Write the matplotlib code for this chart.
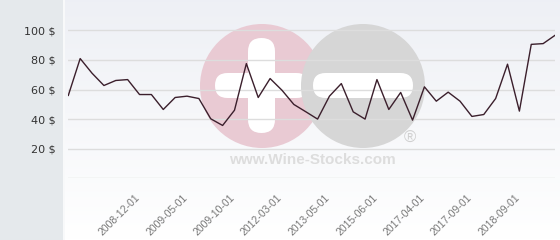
import numpy as np
import matplotlib.pyplot as plt
import matplotlib.transforms as mtransforms
from matplotlib.patches import Circle, FancyBboxPatch, Rectangle

# price history (one point per listing, category axis)
prices = [56.0, 80.9, 71.0, 62.7, 66.1, 66.7, 56.6, 56.6, 46.5, 54.6,
          55.5, 53.9, 40.2, 35.7, 46.0, 77.5, 54.6, 67.4, 59.5, 49.9,
          45.0, 40.0, 55.5, 64.0, 44.9, 40.0, 66.7, 46.5, 58.0, 39.3,
          61.8, 52.1, 58.2, 52.1, 41.8, 43.1, 53.9, 77.1, 45.4, 90.5,
          91.0, 96.6]
label_idx = [5, 9, 13, 17, 21, 25, 29, 33, 37]
label_txt = ["2008-12-01", "2009-05-01", "2009-10-01", "2012-03-01", "2013-05-01",
             "2015-06-01", "2017-04-01", "2017-09-01", "2018-09-01"]
y_ticks = [20, 40, 60, 80, 100]

W, H = 560, 240
fig = plt.figure(figsize=(W / 100, H / 100), dpi=100)

# background + watermark in pixel coords
bg = fig.add_axes([0, 0, 1, 1])
bg.axis("off")
grad = np.linspace(0, 1, 100).reshape(-1, 1)
top = np.array([0.933, 0.941, 0.961])
bg.imshow(top + (1 - top) * grad[:, :, None] * np.ones(3), extent=(63, W, H, 0), aspect="auto")
bg.set_xlim(0, W)
bg.set_ylim(H, 0)
bg.add_patch(Rectangle((0, 0), 63, H, color="#e5e9ec", lw=0))
bg.add_patch(Rectangle((63, 0), 1.5, H, color="#f8f9fa", lw=0))

pink, grey = "#e9cad3", "#d6d6d6"
bg.add_patch(Circle((262, 86), 62, color=pink, lw=0))
bg.add_patch(FancyBboxPatch((214 + 13.5, 73 + 12.5), 96 - 27, 0, boxstyle="round,pad=12.5", color="white", lw=0))
bg.add_patch(FancyBboxPatch((248 + 13.5, 38 + 13.5), 0, 95 - 27, boxstyle="round,pad=13.5", color="white", lw=0))
bg.add_patch(Circle((363, 86), 62, color=grey, lw=0))
bg.add_patch(FancyBboxPatch((313 + 12.5, 73 + 12.5), 100 - 25, 0, boxstyle="round,pad=12.5", color="white", lw=0))
bg.text(312, 160, "www.Wine-Stocks.com", fontsize=11, fontweight="bold", color="#dddddd",
        ha="center", va="center", family="Liberation Sans")
bg.text(410, 138, "\u00ae", fontsize=12, color="#d0d0d0", ha="center", va="center", family="Liberation Sans")

# main chart
ax = fig.add_axes([68.3 / W, (H - 178.3) / H, (555 - 68.3) / W, 177.6 / H])
ax.patch.set_alpha(0)
x = np.arange(len(prices))
ax.plot(x, prices, color="#3b1f2c", lw=1)
ax.set_xlim(0, len(prices) - 1)
ax.set_ylim(0, 120)
for g in [0] + y_ticks:
    ax.axhline(g, color="#dddddd", lw=1, zorder=0)
for s in ax.spines.values():
    s.set_visible(False)
ax.set_yticks(y_ticks)
ax.set_yticklabels([f"{v} $" for v in y_ticks], fontsize=8, color="#333333")
ax.tick_params(axis="y", length=0, pad=9)
ax.set_xticks(label_idx)
ax.set_xticklabels(label_txt, rotation=45, ha="right", va="top", rotation_mode="anchor",
                   fontsize=7.5, color="#777777", family="Liberation Sans")
ax.tick_params(axis="x", length=0, pad=10)
shift = mtransforms.ScaledTranslation(7 / 100, 0, fig.dpi_scale_trans)
for lab in ax.get_xticklabels():
    lab.set_transform(lab.get_transform() + shift)

fig.savefig("out.png", dpi=100)
